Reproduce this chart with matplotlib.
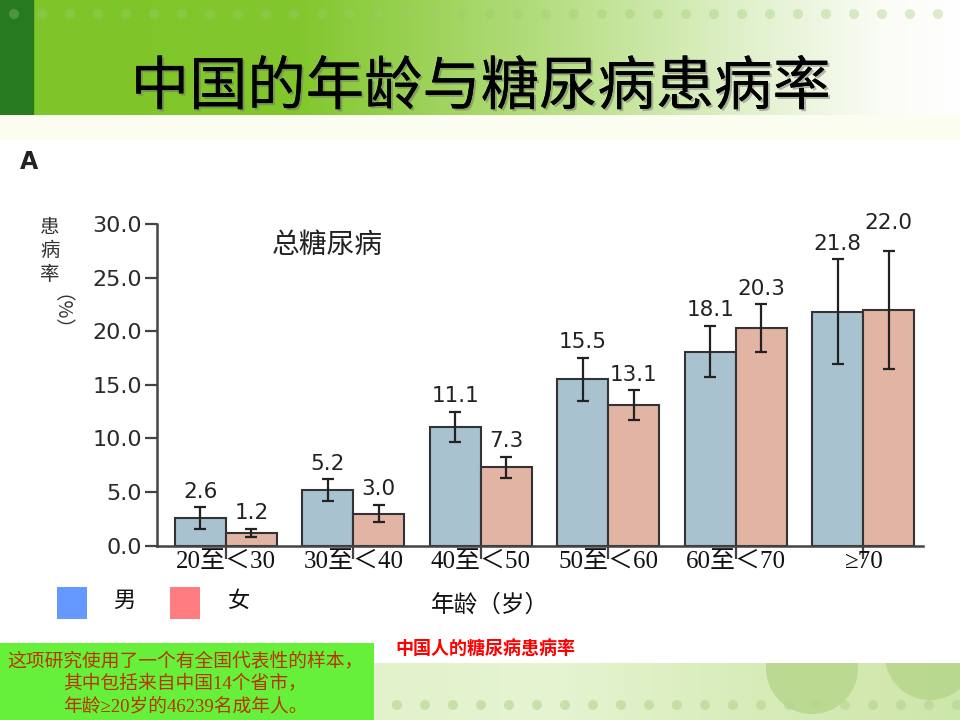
import numpy as np
import matplotlib.pyplot as plt
from matplotlib.patches import Rectangle, Circle
import matplotlib.patheffects as pe
import matplotlib.transforms as mtransforms

plt.rcParams['font.family'] = ['Noto Sans CJK SC', 'DejaVu Sans']

# data
groups = ['20至＜30', '30至＜40', '40至＜50', '50至＜60', '60至＜70', '≥70']
male = [2.6, 5.2, 11.1, 15.5, 18.1, 21.8]
female = [1.2, 3.0, 7.3, 13.1, 20.3, 22.0]
male_err = [1.0, 1.0, 1.4, 2.0, 2.4, 4.9]
female_err = [0.4, 0.8, 1.0, 1.4, 2.2, 5.5]
yticks = [0, 5, 10, 15, 20, 25, 30]

fig = plt.figure(figsize=(9.6, 7.2), dpi=100)

# ---- slide background (pixel coords) ----
bg = fig.add_axes([0, 0, 1, 1])
bg.set_xlim(0, 960)
bg.set_ylim(720, 0)
bg.axis('off')
bg.set_zorder(-1)

# header gradient
xs = np.arange(960)
stops_x = [0, 300, 550, 750, 880, 960]
stops_c = np.array([[125, 197, 40], [130, 199, 46], [182, 222, 130],
                    [225, 241, 205], [250, 252, 245], [255, 255, 255]]) / 255
grad = np.stack([np.interp(xs, stops_x, stops_c[:, k]) for k in range(3)], axis=-1)
bg.imshow(grad[np.newaxis, :, :], extent=(0, 960, 115, 0), aspect='auto', zorder=0)
bg.add_patch(Rectangle((0, 0), 33, 115, color='#277a1f', zorder=1))
bg.add_patch(Rectangle((0, 115), 960, 25, color='#fbfdf0', zorder=1, lw=0))
for dx in np.arange(14, 960, 28):
    bg.add_patch(Circle((dx, 14), 5, color='#9ccc70', alpha=0.35, lw=0, zorder=2))

# bottom band
stops_b = np.array([[214, 236, 180], [225, 241, 200], [230, 244, 210],
                    [215, 236, 185], [210, 232, 175], [205, 230, 170]]) / 255
gradb = np.stack([np.interp(xs, stops_x, stops_b[:, k]) for k in range(3)], axis=-1)
bg.imshow(gradb[np.newaxis, :, :], extent=(0, 960, 720, 663), aspect='auto', zorder=0)
band = Rectangle((0, 663), 960, 57, transform=bg.transData, fill=False, lw=0)
bg.add_patch(band)
for cx, cy, r in [(812, 668, 46), (930, 655, 45)]:
    c = Circle((cx, cy), r, color='#b3d486', alpha=0.75, lw=0, zorder=1)
    bg.add_patch(c)
    c.set_clip_path(band)
for dx in np.arange(5, 960, 28):
    bg.add_patch(Circle((dx, 705), 5, color='#b5d48f', alpha=0.6, lw=0, zorder=2))

# green note box
bg.add_patch(Rectangle((0, 643), 374, 77, color='#66f03a', lw=0, zorder=3))
note_lines = ['这项研究使用了一个有全国代表性的样本，',
              '其中包括来自中国14个省市，',
              '年龄≥20岁的46239名成年人。']
for k, line in enumerate(note_lines):
    bg.text(185, 661 + 22.5 * k, line, ha='center', va='center', fontsize=13.5,
            color='#b83400', zorder=4, family=['Liberation Serif', 'Noto Sans CJK SC'])
bg.text(485, 648, '中国人的糖尿病患病率', ha='center', va='center', fontsize=13,
        color='#ff0000', weight='bold', zorder=4)

# title
bg.text(481, 88, '中国的年龄与糖尿病患病率', ha='center', va='center', fontsize=42,
        color='black', zorder=5,
        path_effects=[pe.withSimplePatchShadow(offset=(1.5, -1.5), shadow_rgbFace='#666666', alpha=0.45),
                      pe.Normal()])

bg.text(20, 162, 'A', ha='left', va='center', fontsize=17, weight='bold',
        color='#222222', family='DejaVu Sans')

# y label characters
for k, ch in enumerate('患病率'):
    bg.text(50, 227 + 24 * k, ch, ha='center', va='center', fontsize=14, color='#333333')
bg.text(50, 322, '（%）', ha='center', va='center', fontsize=14, rotation=-90, color='#333333')

# legend
bg.add_patch(Rectangle((57, 587), 30, 32, color='#6699ff', lw=0))
bg.add_patch(Rectangle((170, 587), 30, 32, color='#ff7c80', lw=0))
bg.text(124, 600, '男', ha='center', va='center', fontsize=16, color='#111111')
bg.text(239, 600, '女', ha='center', va='center', fontsize=16, color='#111111')
bg.text(490, 605, '年龄（岁）', ha='center', va='center', fontsize=17, color='#111111')

# ---- bar chart ----
ax = fig.add_axes([157 / 960, 1 - 545.7 / 720, (923 - 157) / 960, (545.7 - 224) / 720])
ax.set_facecolor('none')
x = np.arange(len(groups))
w = 0.4
ekw = dict(ecolor='#222222', elinewidth=1.6, capsize=4.5, capthick=1.6)
ax.bar(x - w / 2, male, w, yerr=male_err, color='#a9c2d0', edgecolor='#333333',
       linewidth=1.5, error_kw=ekw, zorder=2)
ax.bar(x + w / 2, female, w, yerr=female_err, color='#e2b4a4', edgecolor='#333333',
       linewidth=1.5, error_kw=ekw, zorder=2)

for i in range(len(groups)):
    ax.annotate(f'{male[i]:.1f}', (x[i] - w / 2, male[i] + male_err[i]), xytext=(0, 4),
                textcoords='offset points', ha='center', va='bottom', fontsize=15.5,
                color='#222222', family='DejaVu Sans')
    extra = 13 if i == len(groups) - 1 else 4
    ax.annotate(f'{female[i]:.1f}', (x[i] + w / 2, female[i] + female_err[i]), xytext=(0, extra),
                textcoords='offset points', ha='center', va='bottom', fontsize=15.5,
                color='#222222', family='DejaVu Sans')

ax.set_xlim(-0.54, 5.47)
ax.set_ylim(0, 30)
ax.set_yticks(yticks)
ax.set_yticklabels([f'{v:.1f}' for v in yticks], family='DejaVu Sans', fontsize=16, color='#2a2a2a')
ax.set_xticks(x)
ax.set_xticklabels([])
ax.tick_params(axis='y', length=9, width=1.6, color='#444444', pad=2)
ax.tick_params(axis='x', length=9, width=1.6, color='#444444')
for s in ['top', 'right']:
    ax.spines[s].set_visible(False)
for s in ['left', 'bottom']:
    ax.spines[s].set_color('#444444')
    ax.spines[s].set_linewidth(1.8)

trans = mtransforms.blended_transform_factory(ax.transData, ax.transAxes)
for i, g in enumerate(groups):
    ax.text(x[i], -0.052, g, transform=trans, ha='center', va='center', fontsize=18,
            color='#111111', family=['Liberation Serif', 'Noto Sans CJK SC'])

ax.text(0.8, 28, '总糖尿病', ha='center', va='center', fontsize=20, color='#222222')

fig.savefig('out.png', dpi=100)
